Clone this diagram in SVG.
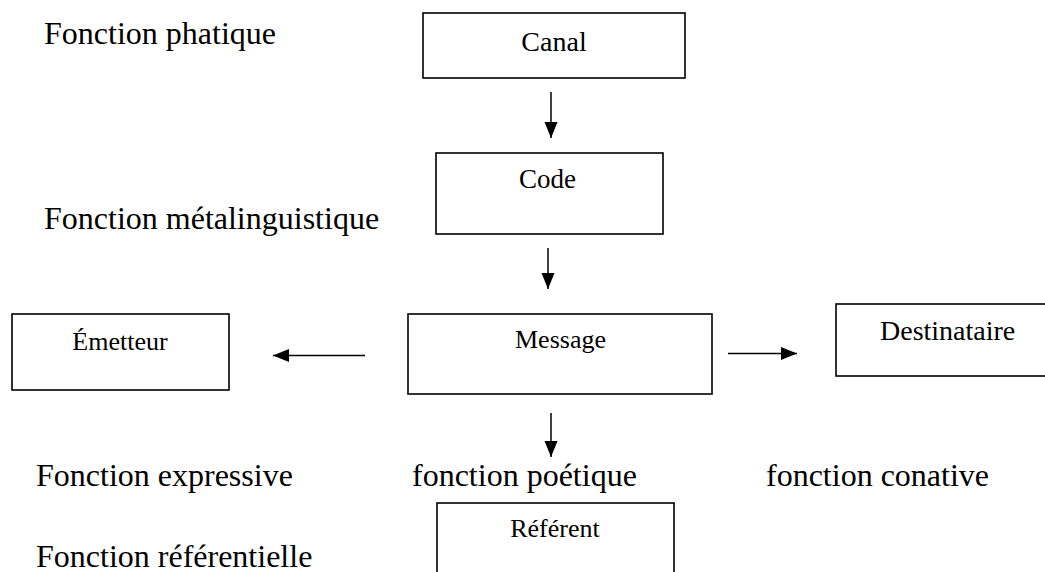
<svg xmlns="http://www.w3.org/2000/svg" width="1045" height="572" viewBox="0 0 1045 572">
<style>
.box{fill:#fff;stroke:#000;stroke-width:1.6}
.lbl{font-family:"Liberation Serif","Times New Roman",serif;font-size:26px;fill:#000}
.fn{font-family:"Liberation Serif","Times New Roman",serif;font-size:32px;fill:#000}
.arr{stroke:#000;stroke-width:1.5;fill:none;marker-end:url(#ah)}
</style>
<defs>
<marker id="ah" markerUnits="userSpaceOnUse" markerWidth="17" markerHeight="14" refX="16" refY="6.5" orient="auto">
<path d="M0,0 L16,6.5 L0,13 z" fill="#000"/>
</marker>
</defs>
<rect width="1045" height="572" fill="#fff"/>
<g id="labels">
<text class="fn" x="44" y="44">Fonction phatique</text>
<text class="fn" x="44" y="229">Fonction métalinguistique</text>
<text class="fn" x="36" y="486">Fonction expressive</text>
<text class="fn" x="412" y="486">fonction poétique</text>
<text class="fn" x="766" y="486">fonction conative</text>
<text class="fn" x="36" y="567">Fonction référentielle</text>
</g>
<g id="canal">
<rect class="box" x="423" y="13" width="262" height="65"/>
<text class="lbl" x="554" y="51" text-anchor="middle" style="font-size:28px">Canal</text>
</g>
<g id="code">
<rect class="box" x="436" y="153" width="227" height="81"/>
<text class="lbl" x="547.5" y="188" text-anchor="middle" style="font-size:27px">Code</text>
</g>
<g id="emetteur">
<rect class="box" x="12" y="314" width="217" height="76"/>
<text class="lbl" x="120" y="350" text-anchor="middle">Émetteur</text>
</g>
<g id="message">
<rect class="box" x="408" y="314" width="304" height="80"/>
<text class="lbl" x="560.5" y="348" text-anchor="middle">Message</text>
</g>
<g id="destinataire">
<rect class="box" x="836" y="304" width="215" height="72"/>
<text class="lbl" x="880" y="340" style="font-size:28px">Destinataire</text>
</g>
<g id="referent">
<rect class="box" x="437" y="503" width="237" height="80"/>
<text class="lbl" x="555" y="537" text-anchor="middle">Référent</text>
</g>
<g id="connectors">
<line class="arr" x1="551" y1="92" x2="551" y2="138"/>
<line class="arr" x1="548" y1="248" x2="548" y2="289"/>
<line class="arr" x1="365" y1="355.5" x2="273" y2="355.5"/>
<line class="arr" x1="728" y1="353.5" x2="797" y2="353.5"/>
<line class="arr" x1="551" y1="413" x2="551" y2="457"/>
</g>
</svg>
